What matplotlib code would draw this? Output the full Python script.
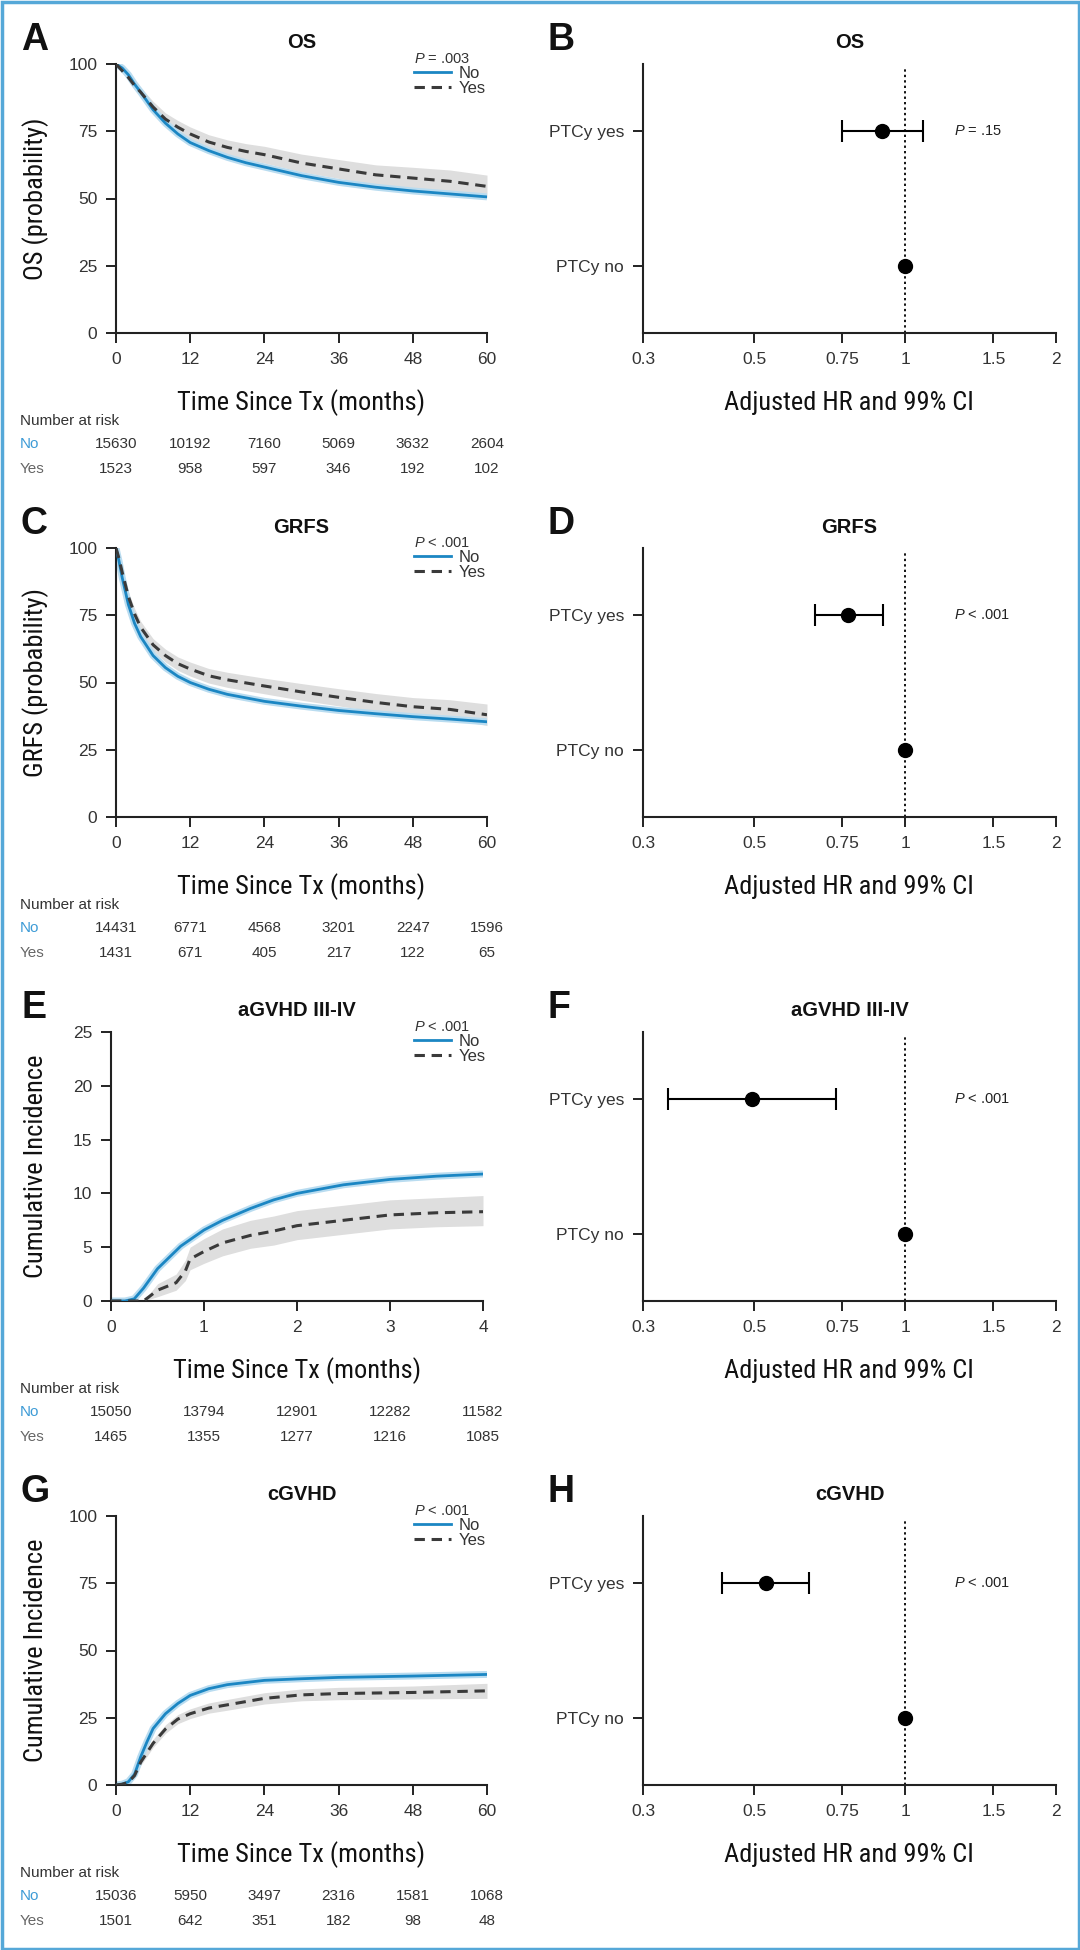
import numpy as np
import matplotlib
matplotlib.use("Agg")
import matplotlib.pyplot as plt
from matplotlib.lines import Line2D
from matplotlib.patches import Rectangle
from matplotlib.transforms import blended_transform_factory
from matplotlib import font_manager

plt.rcParams['font.family'] = ['Liberation Sans', 'DejaVu Sans']
plt.rcParams['mathtext.fontset'] = 'custom'
plt.rcParams['mathtext.it'] = 'Liberation Sans:italic'
plt.rcParams['mathtext.rm'] = 'Liberation Sans'

# condensed face for the axis titles, if one is installed
installed = {f.name for f in font_manager.fontManager.ttflist}
NARROW = [f for f in ['Liberation Sans Narrow', 'Roboto Condensed', 'DejaVu Sans Condensed',
                      'Open Sans Condensed'] if f in installed]
NARROW_SIZE = 19 if NARROW else 17
NARROW = NARROW + ['Liberation Sans', 'DejaVu Sans']

# ---- data ----
# A: OS
os_t = [0, 1, 2, 3, 4, 6, 8, 10, 12, 15, 18, 21, 24, 30, 36, 42, 48, 54, 60]
os_no = [100, 98.5, 96, 92.5, 89.5, 83, 78, 74, 70.8, 67.8, 65.3, 63.3, 61.7, 58.5, 56.0, 54.2, 52.8, 51.7, 50.6]
os_yes = [100, 97.5, 95, 92, 89.5, 84, 79.5, 76.5, 74, 71, 69, 67.5, 66.3, 63.2, 61.0, 58.8, 57.6, 56.4, 54.5]
os_yes_lo = [100, 96.8, 93.8, 90.5, 87.7, 81.9, 77.2, 74.0, 71.4, 68.3, 66.2, 64.6, 63.2, 59.9, 57.5, 55.1, 53.6, 52.2, 50.5]
os_yes_hi = [100, 98.2, 96.2, 93.5, 91.3, 86.1, 81.8, 79.0, 76.6, 73.7, 71.8, 70.4, 69.4, 66.5, 64.5, 62.5, 61.6, 60.6, 58.7]

# C: GRFS
grfs_t = [0, 0.5, 1, 2, 3, 4, 6, 8, 10, 12, 15, 18, 24, 30, 36, 42, 48, 54, 60]
grfs_no = [100, 95, 89, 79, 72, 67, 60, 55.5, 52.3, 50, 47.5, 45.6, 43, 41.2, 39.6, 38.4, 37.3, 36.4, 35.4]
grfs_yes = [100, 96, 91, 82, 75.5, 70.5, 64, 60, 57, 55, 52.5, 51, 48.7, 46.5, 44.5, 42.6, 41, 40, 38]
grfs_yes_lo = [100, 94.8, 89.5, 80.2, 73.5, 68.3, 61.7, 57.6, 54.5, 52.4, 49.8, 48.2, 45.8, 43.4, 41.3, 39.3, 37.6, 36.4, 34.0]
grfs_yes_hi = [100, 97.2, 92.5, 83.8, 77.5, 72.7, 66.3, 62.4, 59.5, 57.6, 55.2, 53.8, 51.6, 49.6, 47.7, 45.9, 44.4, 43.6, 42.0]

# E: aGVHD III-IV
ag_no_t = [0, 0.15, 0.25, 0.35, 0.5, 0.75, 1.0, 1.2, 1.5, 1.75, 2.0, 2.5, 3.0, 3.5, 4.0]
ag_no = [0, 0, 0.2, 1.2, 3.0, 5.1, 6.6, 7.5, 8.6, 9.4, 10.0, 10.8, 11.3, 11.6, 11.8]
ag_yes_t = [0, 0.35, 0.5, 0.7, 0.8, 0.85, 1.0, 1.2, 1.5, 1.75, 2.0, 2.5, 3.0, 3.5, 4.0]
ag_yes = [0, 0, 1.0, 1.7, 2.8, 3.9, 4.6, 5.4, 6.1, 6.5, 7.0, 7.5, 8.0, 8.2, 8.3]
ag_yes_lo = [0, 0, 0.4, 1.0, 1.9, 2.9, 3.5, 4.2, 4.9, 5.2, 5.7, 6.2, 6.7, 6.9, 7.0]
ag_yes_hi = [0, 0, 1.6, 2.5, 3.8, 5.0, 5.8, 6.7, 7.5, 7.9, 8.4, 8.9, 9.4, 9.6, 9.8]

# G: cGVHD
cg_t = [0, 1, 2, 3, 4, 5, 6, 8, 10, 12, 15, 18, 24, 30, 36, 48, 60]
cg_no = [0, 0.3, 1.2, 4, 10.5, 16, 21, 26.5, 30.3, 33.3, 35.8, 37.3, 38.9, 39.5, 40.0, 40.5, 41.1]
cg_yes = [0, 0.3, 1.0, 3.5, 8.5, 12, 15.5, 20.8, 24.5, 26.5, 28.6, 29.8, 32.2, 33.5, 34.0, 34.4, 35.0]
cg_yes_lo = [0, 0.1, 0.6, 2.7, 7.3, 10.6, 14.0, 19.2, 22.8, 24.7, 26.7, 27.8, 30.1, 31.3, 31.7, 32.0, 32.2]
cg_yes_hi = [0, 0.5, 1.4, 4.3, 9.7, 13.4, 17.0, 22.4, 26.2, 28.3, 30.5, 31.8, 34.3, 35.7, 36.3, 36.8, 37.8]

# number at risk
risk_t_60 = [0, 12, 24, 36, 48, 60]
risk_t_4 = [0, 1, 2, 3, 4]
os_risk_no = [15630, 10192, 7160, 5069, 3632, 2604]
os_risk_yes = [1523, 958, 597, 346, 192, 102]
grfs_risk_no = [14431, 6771, 4568, 3201, 2247, 1596]
grfs_risk_yes = [1431, 671, 405, 217, 122, 65]
ag_risk_no = [15050, 13794, 12901, 12282, 11582]
ag_risk_yes = [1465, 1355, 1277, 1216, 1085]
cg_risk_no = [15036, 5950, 3497, 2316, 1581, 1068]
cg_risk_yes = [1501, 642, 351, 182, 98, 48]

# forest plots: adjusted HR (99% CI) of PTCy yes vs no
hr_titles = ['OS', 'GRFS', 'aGVHD III-IV', 'cGVHD']
hr_est = [0.90, 0.77, 0.495, 0.527]
hr_lo = [0.75, 0.66, 0.337, 0.432]
hr_hi = [1.085, 0.905, 0.727, 0.644]
hr_p = [r'$P$ = .15', r'$P$ < .001', r'$P$ < .001', r'$P$ < .001']
hr_ticks = [0.3, 0.5, 0.75, 1, 1.5, 2]
hr_ticklabels = ['0.3', '0.5', '0.75', '1', '1.5', '2']

km_pvals = [r'$P$ = .003', r'$P$ < .001', r'$P$ < .001', r'$P$ < .001']

BLUE = '#1b86c3'
BLUE_LIGHT = '#b9dcf0'
DARK = '#3a3a3a'
BAND = '#dedede'
RISK_BLUE = '#3d9bd6'

W, H = 1080, 1950
fig = plt.figure(figsize=(W / 100, H / 100), dpi=100)
fig.patch.set_facecolor('white')
fig.patches.append(Rectangle((1.5 / W, 1.5 / H), 1 - 3 / W, 1 - 3 / H, transform=fig.transFigure,
                             fill=False, edgecolor='#55a8d8', linewidth=2.5))

row_tops = [64, 548, 1032, 1516]
ax_h = 269


def add_ax(left, top, width):
    return fig.add_axes([left / W, 1 - (top + ax_h) / H, width / W, ax_h / H])


def style_axes(ax):
    for s in ['top', 'right']:
        ax.spines[s].set_visible(False)
    for s in ['left', 'bottom']:
        ax.spines[s].set_linewidth(1.5)
        ax.spines[s].set_color('#222222')
    ax.tick_params(direction='out', length=7.5, width=1.4, color='#222222',
                   labelsize=12.5, labelcolor='#333333', pad=6)


def km_panel(row, letter, title, ylabel, t_no, no, t_yes, yes, lo, hi, xmax, xticks,
             ymax, yticks, pval, risk_t, risk_no, risk_yes, left=116, width=371):
    top = row_tops[row]
    ax = add_ax(left, top, width)
    style_axes(ax)
    ax.fill_between(t_yes, lo, hi, color=BAND, lw=0, zorder=1)
    ax.plot(t_no, no, color=BLUE_LIGHT, lw=5, solid_capstyle='butt', zorder=2)
    ax.plot(t_no, no, color=BLUE, lw=2.0, zorder=3)
    ax.plot(t_yes, yes, color=DARK, lw=2.2, dashes=(3.4, 2.2), zorder=4)
    ax.set_xlim(0, xmax)
    ax.set_ylim(0, ymax)
    ax.set_xticks(xticks)
    ax.set_yticks(yticks)

    ax.set_xlabel('Time Since Tx (months)', family=NARROW, fontsize=NARROW_SIZE, color='#111111')
    ax.xaxis.set_label_coords(0.5, -70 / ax_h)
    ax.xaxis.label.set_va('center')
    ax.set_ylabel(ylabel, family=NARROW, fontsize=NARROW_SIZE, color='#111111')
    ax.yaxis.set_label_coords((36 - left) / width, 0.5)
    ax.yaxis.label.set_va('center')

    ax.text(0.5, 1 + 21 / ax_h, title, transform=ax.transAxes, ha='center', va='center',
            fontsize=14.5, fontweight='bold', color='#111111')
    fig.text(21 / W, 1 - (top - 24) / H, letter, ha='left', va='center',
             fontsize=27, fontweight='bold', color='#111111')

    handles = [Line2D([], [], color=BLUE, lw=2.0),
               Line2D([], [], color=DARK, lw=2.2, dashes=(3.4, 2.2))]
    leg = ax.legend(handles, ['No', 'Yes'], title=pval, loc='upper left',
                    bbox_to_anchor=((414 - left) / width, 1.045), frameon=False,
                    fontsize=12, title_fontsize=10.5, alignment='left',
                    handlelength=2.2, handletextpad=0.5, labelspacing=0.0,
                    borderaxespad=0, borderpad=0)
    leg.get_title().set_color('#333333')
    for txt in leg.get_texts():
        txt.set_color('#333333')

    bottom = top + ax_h
    fig.text(20 / W, 1 - (bottom + 88) / H, 'Number at risk', ha='left', va='center',
             fontsize=11, color='#333333')
    fig.text(20 / W, 1 - (bottom + 111) / H, 'No', ha='left', va='center',
             fontsize=11, color=RISK_BLUE)
    fig.text(20 / W, 1 - (bottom + 136) / H, 'Yes', ha='left', va='center',
             fontsize=11, color='#666666')
    tr = blended_transform_factory(ax.transData, ax.transAxes)
    for x, n in zip(risk_t, risk_no):
        ax.text(x, -111 / ax_h, str(n), transform=tr, ha='center', va='center',
                fontsize=11, color='#333333', clip_on=False)
    for x, n in zip(risk_t, risk_yes):
        ax.text(x, -136 / ax_h, str(n), transform=tr, ha='center', va='center',
                fontsize=11, color='#333333', clip_on=False)
    return ax


def forest_panel(row, letter, i):
    top = row_tops[row]
    left, width = 643, 413
    ax = add_ax(left, top, width)
    style_axes(ax)
    ax.set_xscale('log')
    ax.set_xlim(0.3, 2)
    ax.set_ylim(0.5, 2.5)
    ax.set_xticks(hr_ticks)
    ax.set_xticklabels(hr_ticklabels)
    ax.xaxis.set_minor_locator(matplotlib.ticker.NullLocator())
    ax.set_yticks([1, 2])
    ax.set_yticklabels(['PTCy no', 'PTCy yes'])
    ax.axvline(1, ymin=0, ymax=0.99, color='#111111', lw=1.4, ls=(0, (1.2, 1.6)), zorder=1)
    ax.errorbar([hr_est[i]], [2], xerr=[[hr_est[i] - hr_lo[i]], [hr_hi[i] - hr_est[i]]],
                fmt='o', color='black', ms=10, elinewidth=1.5, capsize=8, capthick=1.5, zorder=3)
    ax.plot([1], [1], 'o', color='black', ms=10, zorder=3)
    ax.text((954 - left) / width, 2, hr_p[i], transform=blended_transform_factory(ax.transAxes, ax.transData),
            ha='left', va='center', fontsize=10.5, color='#222222')
    ax.set_xlabel('Adjusted HR and 99% CI', family=NARROW, fontsize=NARROW_SIZE, color='#111111')
    ax.xaxis.set_label_coords((849 - left) / width, -70 / ax_h)
    ax.xaxis.label.set_va('center')
    ax.text(0.5, 1 + 21 / ax_h, hr_titles[i], transform=ax.transAxes, ha='center', va='center',
            fontsize=14.5, fontweight='bold', color='#111111')
    fig.text(548 / W, 1 - (top - 24) / H, letter, ha='left', va='center',
             fontsize=27, fontweight='bold', color='#111111')
    return ax


km_panel(0, 'A', 'OS', 'OS (probability)', os_t, os_no, os_t, os_yes, os_yes_lo, os_yes_hi,
         60, risk_t_60, 100, [0, 25, 50, 75, 100], km_pvals[0], risk_t_60, os_risk_no, os_risk_yes)
km_panel(1, 'C', 'GRFS', 'GRFS (probability)', grfs_t, grfs_no, grfs_t, grfs_yes, grfs_yes_lo, grfs_yes_hi,
         60, risk_t_60, 100, [0, 25, 50, 75, 100], km_pvals[1], risk_t_60, grfs_risk_no, grfs_risk_yes)
km_panel(2, 'E', 'aGVHD III-IV', 'Cumulative Incidence', ag_no_t, ag_no, ag_yes_t, ag_yes, ag_yes_lo, ag_yes_hi,
         4, risk_t_4, 25, [0, 5, 10, 15, 20, 25], km_pvals[2], risk_t_4, ag_risk_no, ag_risk_yes,
         left=111, width=372)
km_panel(3, 'G', 'cGVHD', 'Cumulative Incidence', cg_t, cg_no, cg_t, cg_yes, cg_yes_lo, cg_yes_hi,
         60, risk_t_60, 100, [0, 25, 50, 75, 100], km_pvals[3], risk_t_60, cg_risk_no, cg_risk_yes)

for row, letter in enumerate(['B', 'D', 'F', 'H']):
    forest_panel(row, letter, row)

fig.savefig('out.png', dpi=100, facecolor='white')
